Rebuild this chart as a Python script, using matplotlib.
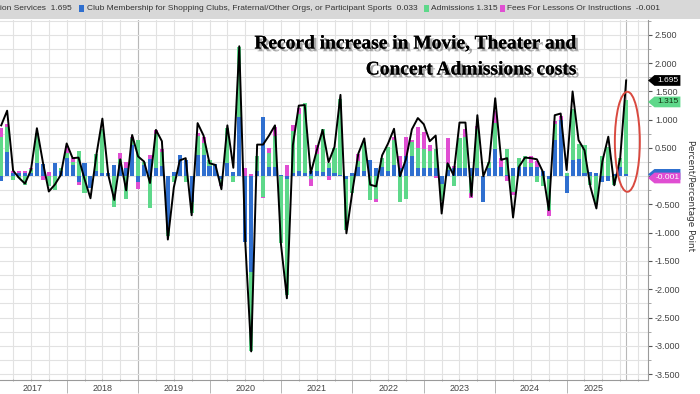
import numpy as np
import matplotlib
matplotlib.use("Agg")
import matplotlib.pyplot as plt
from matplotlib import font_manager
from matplotlib.patches import Ellipse, Polygon, Rectangle
from matplotlib import patheffects
import matplotlib.transforms as mtransforms

# monthly contributions, first visible bar = index 0
blue = [
    -0.08, 0.43, 0.06, 0.05, 0.05, 0.05, 0.24, 0.21, 0.0, 0.24,
    0.1, 0.32, 0.2, -0.1, 0.24, -0.21, 0.1, 0.06, 0.05, 0.2,
    0.2, 0.15, 0.55, -0.1, 0.2, 0.3, 0.15, 0.18, -0.95, 0.08,
    0.37, 0.28, -0.45, 0.37, 0.38, 0.18, 0.22, -0.05, 0.24, 0.08,
    1.04, -1.16, -1.7, 0.1, 1.04, 0.17, 0.17, 0.03, -0.05, 0.05,
    0.1, 0.05, 0.1, 0.1, 0.08, 0.15, 0.05, 0.02, -0.05, 0.05,
    0.17, 0.1, 0.29, 0.15, 0.17, 0.1, 0.2, 0.15, 0.35, 0.35,
    0.15, 0.14, 0.14, 0.14, -0.13, 0.11, 0.14, 0.14, 0.14, 0.14,
    0.14, -0.45, 0.15, 0.49, 0.17, 0.02, 0.15, 0.17, 0.17, 0.17,
    0.17, 0.1, -0.05, 0.64, 1.0, -0.3, 0.29, 0.3, 0.05, 0.08,
    0.05, -0.1, -0.09, 0.04, 0.17, 0.033,
]
green = [
    0.7, 0.45, -0.06, -0.03, -0.15, 0.08, 0.52, 0.0, -0.18, -0.25,
    0.05, 0.1, 0.05, 0.45, -0.3, 0.0, 0.3, 0.78, 0.0, -0.54,
    0.1, -0.41, 0.12, 0.64, 0.05, -0.57, 0.6, 0.25, -0.1, -0.11,
    0.0, -0.1, -0.2, 0.35, 0.2, 0.1, 0.0, -0.1, 0.62, -0.1,
    1.25, 0.0, -1.4, 0.25, -0.36, 0.24, 0.55, -1.19, -2.05, 0.75,
    1.0, 1.25, -0.05, 0.3, 0.75, 0.08, 0.45, 1.35, -0.9, -0.3,
    0.1, 0.5, -0.42, -0.4, 0.15, 0.41, 0.45, -0.45, -0.4, 0.25,
    0.35, 0.35, 0.3, 0.35, -0.3, 0.1, -0.17, 0.53, 0.56, -0.3,
    0.7, 0.0, 0.1, 0.46, 0.0, 0.46, -0.28, 0.15, 0.18, 0.06,
    -0.1, -0.18, -0.55, 0.28, 0.0, 0.05, 0.9, 0.27, 0.5, -0.15,
    -0.48, 0.35, 0.52, -0.16, 0.15, 1.315,
]
magenta = [
    0.15, 0.05, 0.04, 0.04, 0.05, 0.02, 0.0, -0.06, 0.07, 0.0,
    0.0, 0.12, 0.08, -0.06, 0.0, 0.0, 0.0, 0.0, 0.0, 0.0,
    0.12, 0.1, 0.03, -0.12, 0.0, 0.08, 0.07, 0.05, 0.0, 0.0,
    0.0, 0.0, 0.0, 0.05, 0.12, 0.0, 0.0, -0.03, 0.0, 0.0,
    0.0, 0.15, 0.04, 0.0, -0.03, 0.09, 0.15, 0.0, 0.2, 0.1,
    0.1, 0.0, -0.12, 0.15, 0.0, -0.06, 0.0, 0.0, 0.0, 0.0,
    0.12, 0.0, 0.0, -0.05, 0.0, 0.0, 0.05, 0.2, 0.35, 0.05,
    0.38, 0.3, 0.12, -0.04, 0.0, 0.47, 0.05, 0.0, 0.13, -0.09,
    0.05, 0.0, 0.0, 0.2, 0.15, -0.08, -0.05, 0.0, 0.0, 0.12,
    0.1, 0.0, -0.1, 0.05, 0.06, 0.0, 0.0, 0.0, 0.0, 0.0,
    0.0, 0.0, 0.0, 0.0, 0.0, -0.001,
]
total = [
    0.9, 1.16, 0.1, -0.03, -0.13, 0.11, 0.85, 0.25, -0.27, -0.15,
    0.02, 0.58, 0.32, 0.33, -0.05, -0.39, 0.38, 1.02, 0.02, -0.42,
    0.3, -0.25, 0.73, 0.35, 0.26, -0.12, 0.82, 0.62, -1.12, -0.2,
    0.28, 0.32, -0.69, 0.94, 0.72, 0.23, 0.2, -0.23, 0.9, 0.15,
    2.3, -1.15, -3.1, 0.56, 0.56, 0.72, 0.9, -1.2, -2.16, 0.55,
    1.25, 1.26, 0.05, 0.45, 0.82, 0.25, 0.52, 1.44, -1.01, -0.27,
    0.4, 0.67, -0.15, -0.18, 0.37, 0.58, 0.84, 0.0, 0.3, 0.83,
    1.03, 0.92, 0.62, 0.72, -0.66, 0.23, 0.02, 0.95, 0.95, -0.35,
    1.08, 0.0, 0.26, 1.38, 0.29, 0.32, -0.73, 0.17, 0.33, 0.32,
    0.3, 0.08, -0.6, 1.08, 1.11, 0.11, 1.5, 0.64, 0.46, -0.19,
    -0.57, 0.26, 0.7, -0.16, 0.32, 1.695,
]

years = ["2017", "2018", "2019", "2020", "2021", "2022", "2023", "2024", "2025"]
year_starts = [-1, 11, 23, 35, 47, 59, 71, 83, 95]
year_label_pos = [5.3, 17.1, 29.0, 41.0, 53.0, 65.0, 77.0, 88.8, 99.6]
ytick_vals = np.arange(-3.5, 2.51, 0.5)

legend_items = [
    ("ion Services  1.695", None),
    ("Club Membership for Shopping Clubs, Fraternal/Other Orgs, or Participant Sports  0.033", "#2f6fcf"),
    ("Admissions 1.315", "#5ed88a"),
    ("Fees For Lessons Or Instructions  -0.001", "#e04ed2"),
]
legend_x = [0, 87, 431, 507]
square_x = [None, 79, 424, 500]

title_1 = "Record increase in Movie, Theater and"
title_2 = "Concert Admissions costs"

c_blue = "#2f6fcf"
c_green = "#5ed88a"
c_mag = "#e04ed2"

names = [f.name for f in font_manager.fontManager.ttflist]
small_font = "Liberation Sans" if "Liberation Sans" in names else "DejaVu Sans"
plt.rcParams["font.family"] = [small_font, "DejaVu Sans"]

fig = plt.figure(figsize=(7.0, 3.94), dpi=100)
W, H = 700, 394
ax = fig.add_axes([0, 14 / H, 648 / W, 360 / H])

x = np.arange(len(total))
series = [np.array(blue), np.array(green), np.array(magenta)]
colors = [c_blue, c_green, c_mag]
pos_base = np.zeros(len(x))
neg_base = np.zeros(len(x))
for vals, col in zip(series, colors):
    pos = np.where(vals > 0, vals, 0)
    neg = np.where(vals < 0, vals, 0)
    ax.bar(x, pos, bottom=pos_base, width=0.68, color=col, linewidth=0, zorder=3)
    ax.bar(x, neg, bottom=neg_base, width=0.68, color=col, linewidth=0, zorder=3)
    pos_base += pos
    neg_base += neg

ax.plot(x, total, color="black", lw=1.4, zorder=4)

ax.set_xlim(-0.2, 108.67)
ax.set_ylim(-3.606, 2.765)

# grid
for gx in range(2, 108, 3):
    ax.axvline(gx, color="#e2e2e2", lw=0.8, zorder=0)
ax.axvline(23, color="#b8b8b8", lw=0.8, zorder=0)
ax.axvline(105, color="#b8b8b8", lw=0.8, zorder=0)
for gy in np.arange(-3.5, 2.76, 0.25):
    ax.axhline(gy, color="#e2e2e2", lw=0.8, zorder=0)

for s in ["left", "top"]:
    ax.spines[s].set_visible(False)
ax.spines["right"].set_color("#9a9a9a")
ax.spines["bottom"].set_color("#9a9a9a")
ax.spines["right"].set_linewidth(0.8)
ax.spines["bottom"].set_linewidth(0.8)

ax.yaxis.tick_right()
ax.set_yticks(ytick_vals)
# the 0.000 label sits under the value tags, as in the original
ax.set_yticklabels(["" if abs(v) < 1e-9 else f"{v:.3f}" for v in ytick_vals])
ax.set_yticks(np.arange(-3.5, 2.76, 0.25), minor=True)
ax.tick_params(axis="y", which="major", length=3, width=0.8, color="#555555",
               labelsize=6.5, labelcolor="#444444", pad=2)
ax.tick_params(axis="y", which="minor", length=2, width=0.6, color="#999999")

ax.set_xticks(year_starts[1:])
ax.set_xticklabels([])
ax.set_xticks(list(range(2, 108, 3)), minor=True)
ax.tick_params(axis="x", which="major", length=9, width=0.6, color="#aaaaaa")
ax.tick_params(axis="x", which="minor", length=2, width=0.6, color="#aaaaaa", direction="inout")

trans_xa = mtransforms.blended_transform_factory(ax.transData, ax.transAxes)
for lab, px in zip(years, year_label_pos):
    ax.text(px, -0.012, lab, transform=trans_xa, ha="center", va="top",
            fontsize=6.5, color="#444444")

ax.text(1.066, 0.512, "Percent/Percentage Point", transform=ax.transAxes, rotation=270,
        ha="center", va="center", fontsize=6.4, color="#333333", family="DejaVu Sans")

# value tags on the right axis
trans_ay = mtransforms.blended_transform_factory(ax.transAxes, ax.transData)
hh = 0.095
tags = [(0.033, c_blue, "white", "0.033"), (1.695, "black", "white", "1.695"),
        (1.315, c_green, "#113311", "1.315"), (-0.001, c_mag, "white", "-0.001")]
for yv, fc, tc, txt in tags:
    yy = yv - 0.03 if txt == "-0.001" else yv
    poly = Polygon([(1.0, yy), (1.01, yy + hh), (1.05, yy + hh), (1.05, yy - hh), (1.01, yy - hh)],
                   closed=True, transform=trans_ay, facecolor=fc, edgecolor="none",
                   clip_on=False, zorder=6)
    ax.add_patch(poly)
    if txt != "0.033":
        ax.text(1.031, yy, txt, transform=trans_ay, ha="center", va="center",
                fontsize=6, color=tc, zorder=7, clip_on=False)

# highlight ellipse
ax.add_patch(Ellipse((105.2, 0.61), 4.2, 1.77, fill=False, edgecolor="#d9493f", lw=1.4, zorder=5))

# title with shadow
shadow = [patheffects.withSimplePatchShadow(offset=(2, -2), shadow_rgbFace="#555555", alpha=0.5),
          patheffects.Normal()]
fig.text(577 / W, 1 - 44 / H, title_1, ha="right", va="center", fontsize=14,
         family="Liberation Serif", weight="bold", color="black", path_effects=shadow)
fig.text(577 / W, 1 - 70 / H, title_2, ha="right", va="center", fontsize=14,
         family="Liberation Serif", weight="bold", color="black", path_effects=shadow)

# legend bar on top
fig.patches.append(Rectangle((0, 1 - 19 / H), 1, 19 / H, transform=fig.transFigure,
                             facecolor="#d8d8d8", edgecolor="none", zorder=0))
for (txt, col), lx, sx in zip(legend_items, legend_x, square_x):
    if col is not None:
        fig.patches.append(Rectangle((sx / W, 1 - 12 / H), 5 / W, 7 / H, transform=fig.transFigure,
                                     facecolor=col, edgecolor="none", zorder=1))
    fig.text(lx / W, 1 - 8.5 / H, txt, ha="left", va="center", fontsize=6.0, color="#333333")

fig.savefig("out.png", dpi=100)
